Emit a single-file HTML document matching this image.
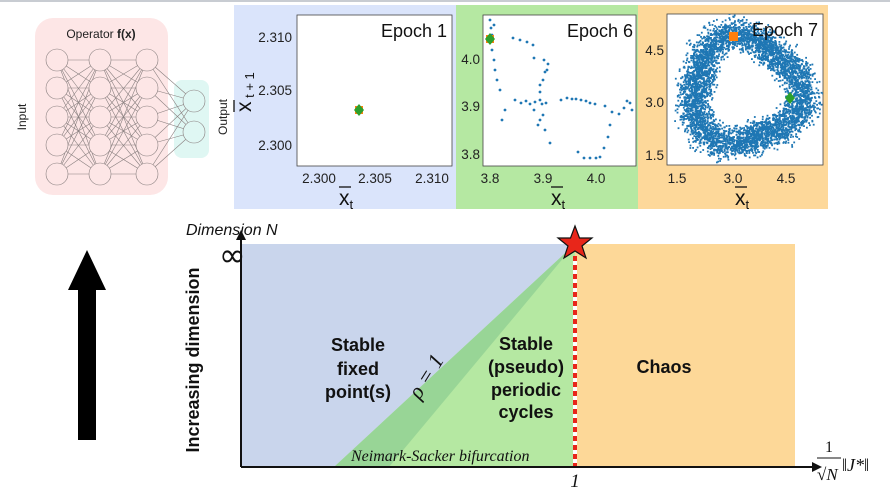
<!DOCTYPE html>
<html><head><meta charset="utf-8"><style>
html,body{margin:0;padding:0;background:#fff;}
svg{display:block;font-family:"Liberation Sans",sans-serif;}
</style></head><body>
<svg id="s" width="890" height="489" viewBox="0 0 890 489" xmlns="http://www.w3.org/2000/svg">
<defs><clipPath id="c7"><rect x="667" y="14" width="156" height="151"/></clipPath></defs>
<rect width="890" height="489" fill="#fff"/>
<line x1="0" y1="1" x2="890" y2="1" stroke="#c8ccd2" stroke-width="2"/>
<rect x="35" y="18" width="133" height="177" rx="18" fill="#fde6e6"/>
<rect x="174" y="80" width="35" height="78" rx="8" fill="#dff7f3"/>
<g id="nn" stroke="#8a8080" stroke-width="0.6" fill="none"></g>
<text x="101" y="38" font-size="12" text-anchor="middle" fill="#222">Operator <tspan font-weight="bold">f(x)</tspan></text>
<text transform="translate(26,117) rotate(-90)" font-size="12" text-anchor="middle" fill="#222">Input</text>
<text transform="translate(227,117) rotate(-90)" font-size="12" text-anchor="middle" fill="#222">Output</text>
<rect x="234" y="5" width="222" height="204" fill="#dae4fb"/>
<rect x="456" y="5" width="182" height="204" fill="#b5e8a2"/>
<rect x="638" y="5" width="190" height="204" fill="#fdd89a"/>
<rect x="297" y="15" width="155" height="151" fill="#fff" stroke="#444" stroke-width="0.8"/>
<rect x="483" y="15" width="153" height="151" fill="#fff" stroke="#444" stroke-width="0.8"/>
<rect x="667" y="14" width="156" height="151" fill="#fff" stroke="#444" stroke-width="0.8"/>
<g font-size="13.5" fill="#222">
<text x="292" y="42" text-anchor="end">2.310</text><text x="292" y="95" text-anchor="end">2.305</text><text x="292" y="150" text-anchor="end">2.300</text>
<text x="319" y="183" text-anchor="middle">2.300</text><text x="375" y="183" text-anchor="middle">2.305</text><text x="432" y="183" text-anchor="middle">2.310</text>
<text x="480" y="64" text-anchor="end">4.0</text><text x="480" y="111" text-anchor="end">3.9</text><text x="480" y="159" text-anchor="end">3.8</text>
<text x="490" y="183" text-anchor="middle">3.8</text><text x="543" y="183" text-anchor="middle">3.9</text><text x="596" y="183" text-anchor="middle">4.0</text>
<text x="664" y="55" text-anchor="end">4.5</text><text x="664" y="107" text-anchor="end">3.0</text><text x="664" y="160" text-anchor="end">1.5</text>
<text x="677" y="183" text-anchor="middle">1.5</text><text x="733" y="183" text-anchor="middle">3.0</text><text x="786" y="183" text-anchor="middle">4.5</text>
</g>
<g id="dots6" fill="#1f77b4"></g>
<g id="dots7" fill="#1f77b4" clip-path="url(#c7)"></g>
<g font-size="18" fill="#111">
<text x="447" y="37" text-anchor="end">Epoch 1</text>
<text x="633" y="37" text-anchor="end">Epoch 6</text>
<text x="818" y="36" text-anchor="end">Epoch 7</text>
</g>
<g font-size="21" fill="#111">
<text x="339" y="205">x<tspan font-size="13" dy="4">t</tspan></text>
<line x1="339" y1="187" x2="351" y2="187" stroke="#111" stroke-width="1.3"/>
<text x="551" y="205">x<tspan font-size="13" dy="4">t</tspan></text>
<line x1="551" y1="187" x2="563" y2="187" stroke="#111" stroke-width="1.3"/>
<text x="735" y="205">x<tspan font-size="13" dy="4">t</tspan></text>
<line x1="735" y1="187" x2="747" y2="187" stroke="#111" stroke-width="1.3"/>
<g transform="translate(251,112) rotate(-90)"><text x="0" y="0">x<tspan font-size="13" dy="3"> t + 1</tspan></text><line x1="0" y1="-17" x2="12" y2="-17" stroke="#111" stroke-width="1.3"/></g>
</g>
<rect x="355" y="106" width="8" height="8" fill="#ff7f0e"/>
<path d="M359 104 L364 110 L359 116 L354 110Z" fill="#2ca02c"/>
<rect x="486" y="35" width="8" height="8" fill="#ff7f0e"/>
<path d="M490 33 L495 39 L490 45 L485 39Z" fill="#2ca02c"/>
<rect x="729" y="32" width="9" height="9" fill="#ff7f0e"/>
<path d="M790 92 L795 98 L790 104 L785 98Z" fill="#2ca02c"/>
<path d="M78 440 L96 440 L96 290 L106 290 L87 250 L68 290 L78 290Z" fill="#000"/>
<rect x="241" y="244" width="334" height="223" fill="#c9d5ec"/>
<rect x="575" y="244" width="220" height="223" fill="#fdd898"/>
<path d="M575 244 L334 467 L575 467Z" fill="#b5e8a2"/>
<path d="M575 244 L334 467 L389 467Z" fill="#98d596"/>
<line x1="575" y1="256" x2="575" y2="467" stroke="#fff" stroke-width="4"/>
<line x1="575" y1="256" x2="575" y2="467" stroke="#e8261a" stroke-width="4" stroke-dasharray="5,4"/>
<line x1="241" y1="467" x2="815" y2="467" stroke="#111" stroke-width="2"/>
<path d="M822 467 L812 462 L812 472Z" fill="#111"/>
<line x1="241" y1="467" x2="241" y2="238" stroke="#111" stroke-width="2"/>
<path d="M241 230 L236 240 L246 240Z" fill="#111"/>
<path d="M575 226 L579.5 238 L592 238 L582 246 L586 258 L575 251 L564 258 L568 246 L558 238 L570.5 238Z" fill="#e8261a" stroke="#111" stroke-width="1.2"/>
<text x="186" y="235" font-size="16" font-style="italic" fill="#111">Dimension N</text>
<text x="219" y="266" font-size="32" fill="#111" font-family="DejaVu Sans">∞</text>
<text transform="translate(199,360) rotate(-90)" font-size="18" font-weight="bold" text-anchor="middle" fill="#111">Increasing dimension</text>
<g font-size="18" font-weight="bold" text-anchor="middle" fill="#111">
<text x="358" y="351">Stable</text><text x="358" y="375">fixed</text><text x="358" y="398">point(s)</text>
<text x="526" y="350">Stable</text><text x="526" y="373">(pseudo)</text><text x="526" y="396">periodic</text><text x="526" y="418">cycles</text>
<text x="664" y="373">Chaos</text>
</g>
<text transform="translate(432,380) rotate(-58)" font-size="22" font-style="italic" font-family="Liberation Serif,serif" text-anchor="middle" fill="#111">ρ = 1</text>
<text x="351" y="461" font-size="16" font-style="italic" font-family="Liberation Serif,serif" fill="#111">Neimark-Sacker bifurcation</text>
<text x="575" y="487" font-size="19" font-style="italic" font-family="Liberation Serif,serif" text-anchor="middle" fill="#111">1</text>
<g font-family="Liberation Serif,serif" font-style="italic" fill="#111">
<text x="829" y="452" font-size="16" font-style="normal" text-anchor="middle">1</text>
<line x1="817" y1="458" x2="841" y2="458" stroke="#111" stroke-width="1"/>
<text x="817" y="480" font-size="17">√N</text>
<text x="842" y="471" font-size="18">‖J*‖</text>
</g>
</svg>
<script>
(function(){
var NS="http://www.w3.org/2000/svg";
function el(p,n,a){var e=document.createElementNS(NS,n);for(var k in a)e.setAttribute(k,a[k]);p.appendChild(e);return e;}
var nn=document.getElementById('nn');
var cols=[57,100,147],rows=[60,88,117,145,174],outs=[101,132];
for(var c=0;c<2;c++)for(var i=0;i<5;i++)for(var j=0;j<5;j++)el(nn,'line',{x1:cols[c],y1:rows[i],x2:cols[c+1],y2:rows[j]});
for(var i=0;i<5;i++)for(var j=0;j<2;j++)el(nn,'line',{x1:147,y1:rows[i],x2:194,y2:outs[j]});
for(var c=0;c<3;c++)for(var i=0;i<5;i++)el(nn,'circle',{cx:cols[c],cy:rows[i],r:11,fill:'#fde6e6'});
for(var j=0;j<2;j++)el(nn,'circle',{cx:194,cy:outs[j],r:11,fill:'#dff7f3'});
var seed=7;function r(){seed=(seed*16807)%2147483647;return seed/2147483647;}
var d6=document.getElementById('dots6');
var pts=[[490,20],[491,28],[492,50],[494,60],[495,70],[497,80],[500,90],[505,110],[515,100],[521,103],[526,101],[530,104],[535,102],[540,100],[542,104],[546,103],[543,115],[538,125],[534,110],[540,92],[543,80],[545,72],[544,60],[547,70],[548,64],[533,45],[527,42],[520,40],[513,38],[534,58],[540,85],[561,100],[567,98],[572,99],[576,99],[581,100],[586,101],[590,103],[595,104],[605,106],[612,112],[610,125],[608,137],[604,148],[600,157],[596,158],[590,158],[584,158],[578,152],[550,143],[545,130],[540,120],[619,114],[624,108],[627,101],[630,103],[632,110],[502,120],[492,35],[494,25]];
pts.forEach(function(p){el(d6,'circle',{cx:p[0],cy:p[1],r:1.4});});
var d7=document.getElementById('dots7');
for(var k=0;k<5000;k++){var t=r()*6.283;var rad=54+(r()+r()+r()-1.5)*16+5*Math.sin(3*t+1);
el(d7,'rect',{x:(744+rad*Math.cos(t)).toFixed(1),y:(90+0.98*rad*Math.sin(t)).toFixed(1),width:1.8,height:1.8});}
})();
</script>
</body></html>
